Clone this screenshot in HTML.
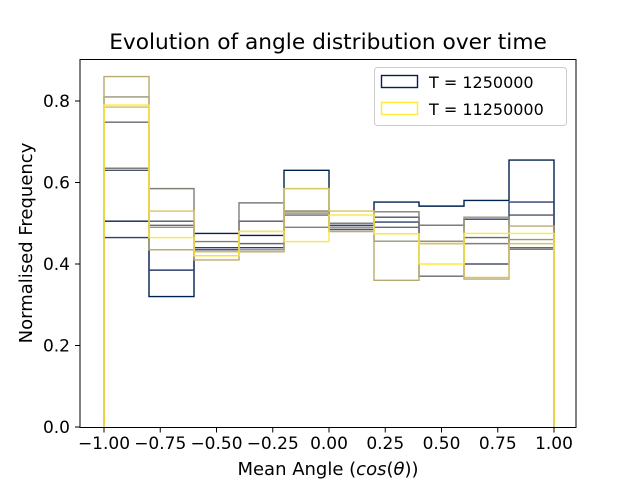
<!DOCTYPE html>
<html><head><meta charset="utf-8"><style>
body{margin:0;background:#fff;width:640px;height:480px;overflow:hidden}
svg{font-family:"DejaVu Sans","Liberation Sans",sans-serif}
</style></head><body>
<svg id="chart" width="640" height="480" viewBox="0 0 640 480">
<rect width="640" height="480" fill="#fff"/>
<text x="328" y="49" font-size="21.7" text-anchor="middle">Evolution of angle distribution over time</text>
<g id="series"></g>
<rect x="80" y="59.5" width="496" height="368" fill="none" stroke="#000" stroke-width="1"/>
<g id="xticks"></g>
<g id="yticks"></g>
<text x="328" y="475" font-size="18" text-anchor="middle">Mean Angle (<tspan font-style="italic">cos</tspan>(<tspan font-style="italic">θ</tspan>))</text>
<text transform="translate(32,243) rotate(-90)" font-size="18" text-anchor="middle">Normalised Frequency</text>
<g>
<rect x="374.5" y="67.5" width="192" height="58" rx="3" fill="#fff" fill-opacity="0.8" stroke="#ccc"/>
<rect x="381.5" y="75.5" width="36" height="12" fill="none" stroke="#00224e" stroke-width="1.4"/>
<text x="429" y="88" font-size="16">T = 1250000</text>
<rect x="381.5" y="102.5" width="36" height="12" fill="none" stroke="#fee838" stroke-width="1.4"/>
<text x="429" y="115" font-size="16">T = 11250000</text>
</g>
</svg>
<script>
const binEdges = [-1,-0.8,-0.6,-0.4,-0.2,0,0.2,0.4,0.6,0.8,1];
const xTickValues = [-1,-0.75,-0.5,-0.25,0,0.25,0.5,0.75,1];
const xTickLabels = ["−1.00","−0.75","−0.50","−0.25","0.00","0.25","0.50","0.75","1.00"];
const yTickValues = [0,0.2,0.4,0.6,0.8];
const yTickLabels = ["0.0","0.2","0.4","0.6","0.8"];
const seriesColors = ['#00224e','#2c3e6c','#4c546c','#666970','#7f7f77','#9b9477','#b8ab70','#d7c463','#fee838'];
const s0 = [0.505,0.32,0.475,0.47,0.63,0.49,0.552,0.542,0.556,0.655];
const s1 = [0.465,0.385,0.44,0.44,0.525,0.495,0.503,0.495,0.51,0.552];
const s2 = [0.63,0.505,0.435,0.505,0.53,0.485,0.515,0.456,0.40,0.52];
const s3 = [0.748,0.495,0.43,0.45,0.52,0.48,0.49,0.37,0.465,0.44];
const s4 = [0.635,0.585,0.455,0.55,0.49,0.50,0.528,0.495,0.45,0.436];
const s5 = [0.81,0.49,0.42,0.435,0.53,0.49,0.456,0.456,0.515,0.46];
const s6 = [0.86,0.435,0.41,0.43,0.525,0.48,0.36,0.45,0.363,0.493];
const s7 = [0.785,0.53,0.43,0.48,0.585,0.53,0.474,0.45,0.367,0.45];
const s8 = [0.79,0.465,0.42,0.48,0.455,0.52,0.474,0.40,0.475,0.475];
const allSeries = [s0,s1,s2,s3,s4,s5,s6,s7,s8];

const NS = "http://www.w3.org/2000/svg";
const xs = v => 104 + (v + 1) * 225;
const ys = v => 427 - v * 407.5;

const sg = document.getElementById('series');
allSeries.forEach((vals, i) => {
  let d = `M${xs(binEdges[0])},${ys(0)}`;
  vals.forEach((v, j) => {
    d += ` L${xs(binEdges[j])},${ys(v)} L${xs(binEdges[j+1])},${ys(v)}`;
  });
  d += ` L${xs(binEdges[binEdges.length-1])},${ys(0)}`;
  const p = document.createElementNS(NS, 'path');
  p.setAttribute('d', d);
  p.setAttribute('fill', 'none');
  p.setAttribute('stroke', seriesColors[i]);
  p.setAttribute('stroke-width', '1.4');
  
  
  sg.appendChild(p);
});

const xg = document.getElementById('xticks');
xTickValues.forEach((v, i) => {
  const x = xs(v);
  const l = document.createElementNS(NS, 'line');
  l.setAttribute('x1', x); l.setAttribute('x2', x);
  l.setAttribute('y1', 427.5); l.setAttribute('y2', 432.5);
  l.setAttribute('stroke', '#000');
  
  
  xg.appendChild(l);
  const t = document.createElementNS(NS, 'text');
  t.setAttribute('x', x); t.setAttribute('y', 449);
  t.setAttribute('font-size', '17');
  t.setAttribute('text-anchor', 'middle');
  t.textContent = xTickLabels[i];
  
  
  xg.appendChild(t);
});
const yg = document.getElementById('yticks');
yTickValues.forEach((v, i) => {
  const y = ys(v);
  const l = document.createElementNS(NS, 'line');
  l.setAttribute('x1', 75); l.setAttribute('x2', 80);
  l.setAttribute('y1', y); l.setAttribute('y2', y);
  l.setAttribute('stroke', '#000');
  
  
  yg.appendChild(l);
  const t = document.createElementNS(NS, 'text');
  t.setAttribute('x', 70); t.setAttribute('y', y + 6);
  t.setAttribute('font-size', '17');
  t.setAttribute('text-anchor', 'end');
  t.textContent = yTickLabels[i];
  
  
  yg.appendChild(t);
});
</script>
</body></html>
